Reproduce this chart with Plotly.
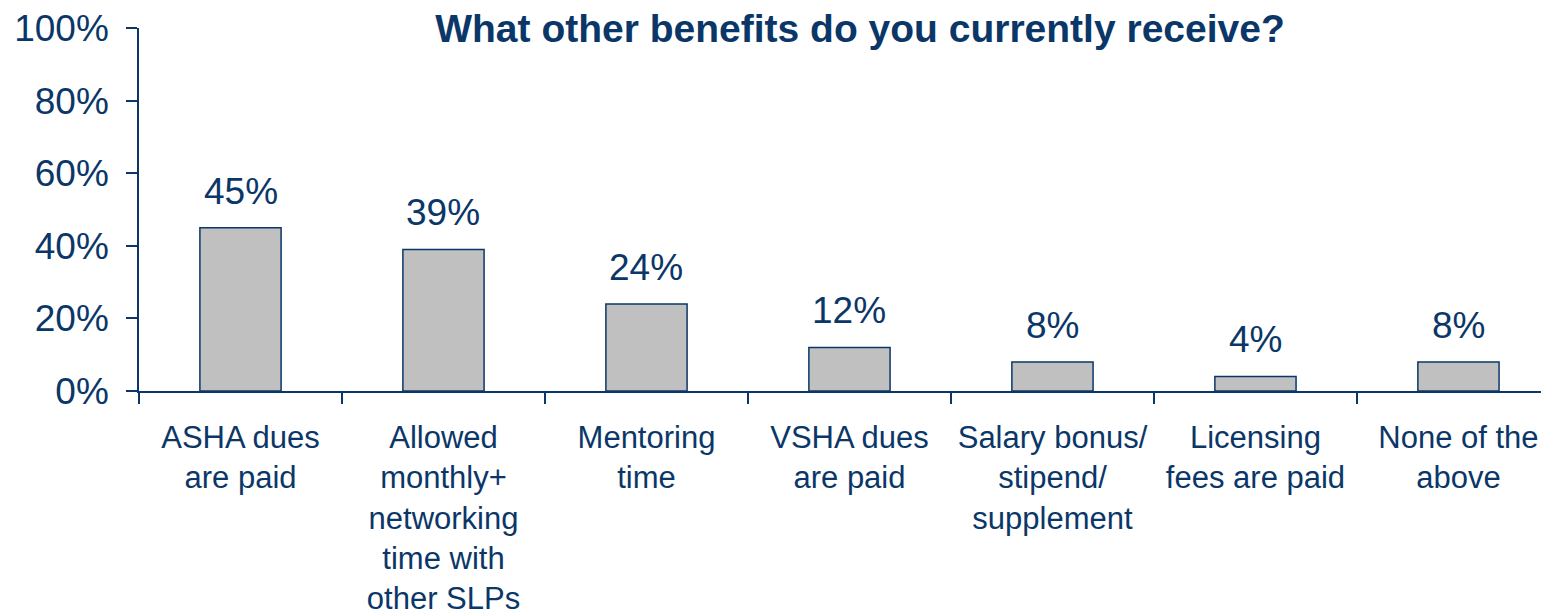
import plotly.graph_objects as go

categories = [
    "ASHA dues<br>are paid",
    "Allowed<br>monthly+<br>networking<br>time with<br>other SLPs",
    "Mentoring<br>time",
    "VSHA dues<br>are paid",
    "Salary bonus/<br>stipend/<br>supplement",
    "Licensing<br>fees are paid",
    "None of the<br>above",
]
values = [45, 39, 24, 12, 8, 4, 8]
y_ticks = [0, 20, 40, 60, 80, 100]
y_tick_labels = ["0%", "20%", "40%", "60%", "80%", "100%"]
title_text = "What other benefits do you currently receive?"

NAVY = "#0b3768"
FONT = "Liberation Sans, Arial, sans-serif"

fig = go.Figure()
fig.add_trace(go.Bar(
    x=categories,
    y=values,
    marker=dict(color="#c0c0c0", line=dict(color=NAVY, width=1.5)),
    hoverinfo="skip",
))

for c, v in zip(categories, values):
    fig.add_annotation(
        x=c, y=v, text=f"{v}%", showarrow=False,
        yanchor="bottom", xanchor="center", yshift=14,
        font=dict(family=FONT, size=37, color=NAVY),
    )

# page has an 8px body margin, so internal coordinates are offset by 8px
fig.update_layout(
    width=1549, height=610,
    margin=dict(l=131, r=8, t=20, b=227),
    paper_bgcolor="white", plot_bgcolor="white",
    bargap=0.6,
    showlegend=False,
    font=dict(family=FONT, color=NAVY),
    title=dict(
        text=f"<b>{title_text}</b>",
        x=852 / 1549, xanchor="center",
        y=1 - 20 / 610, yanchor="middle",
        font=dict(family=FONT, size=39, color=NAVY),
        automargin=False,
    ),
)

fig.update_xaxes(
    type="category",
    range=[-0.5, 6.446],
    automargin=False,
    tickangle=0,
    ticklabeloverflow="allow",
    showline=True, linecolor=NAVY, linewidth=1.5,
    ticks="outside", tickson="boundaries", ticklen=11, tickwidth=1.5, tickcolor=NAVY,
    tickfont=dict(family=FONT, size=31, color=NAVY),
    ticklabelstandoff=18,
    showgrid=False, zeroline=False,
)
fig.update_yaxes(
    range=[0, 100],
    automargin=False,
    ticklabeloverflow="allow",
    tickvals=y_ticks, ticktext=y_tick_labels,
    showline=True, linecolor=NAVY, linewidth=1.5,
    ticks="outside", ticklen=11, tickwidth=1.5, tickcolor=NAVY,
    tickfont=dict(family=FONT, size=37, color=NAVY),
    ticklabelstandoff=10,
    showgrid=False, zeroline=False,
)

fig.write_html("out.html")
